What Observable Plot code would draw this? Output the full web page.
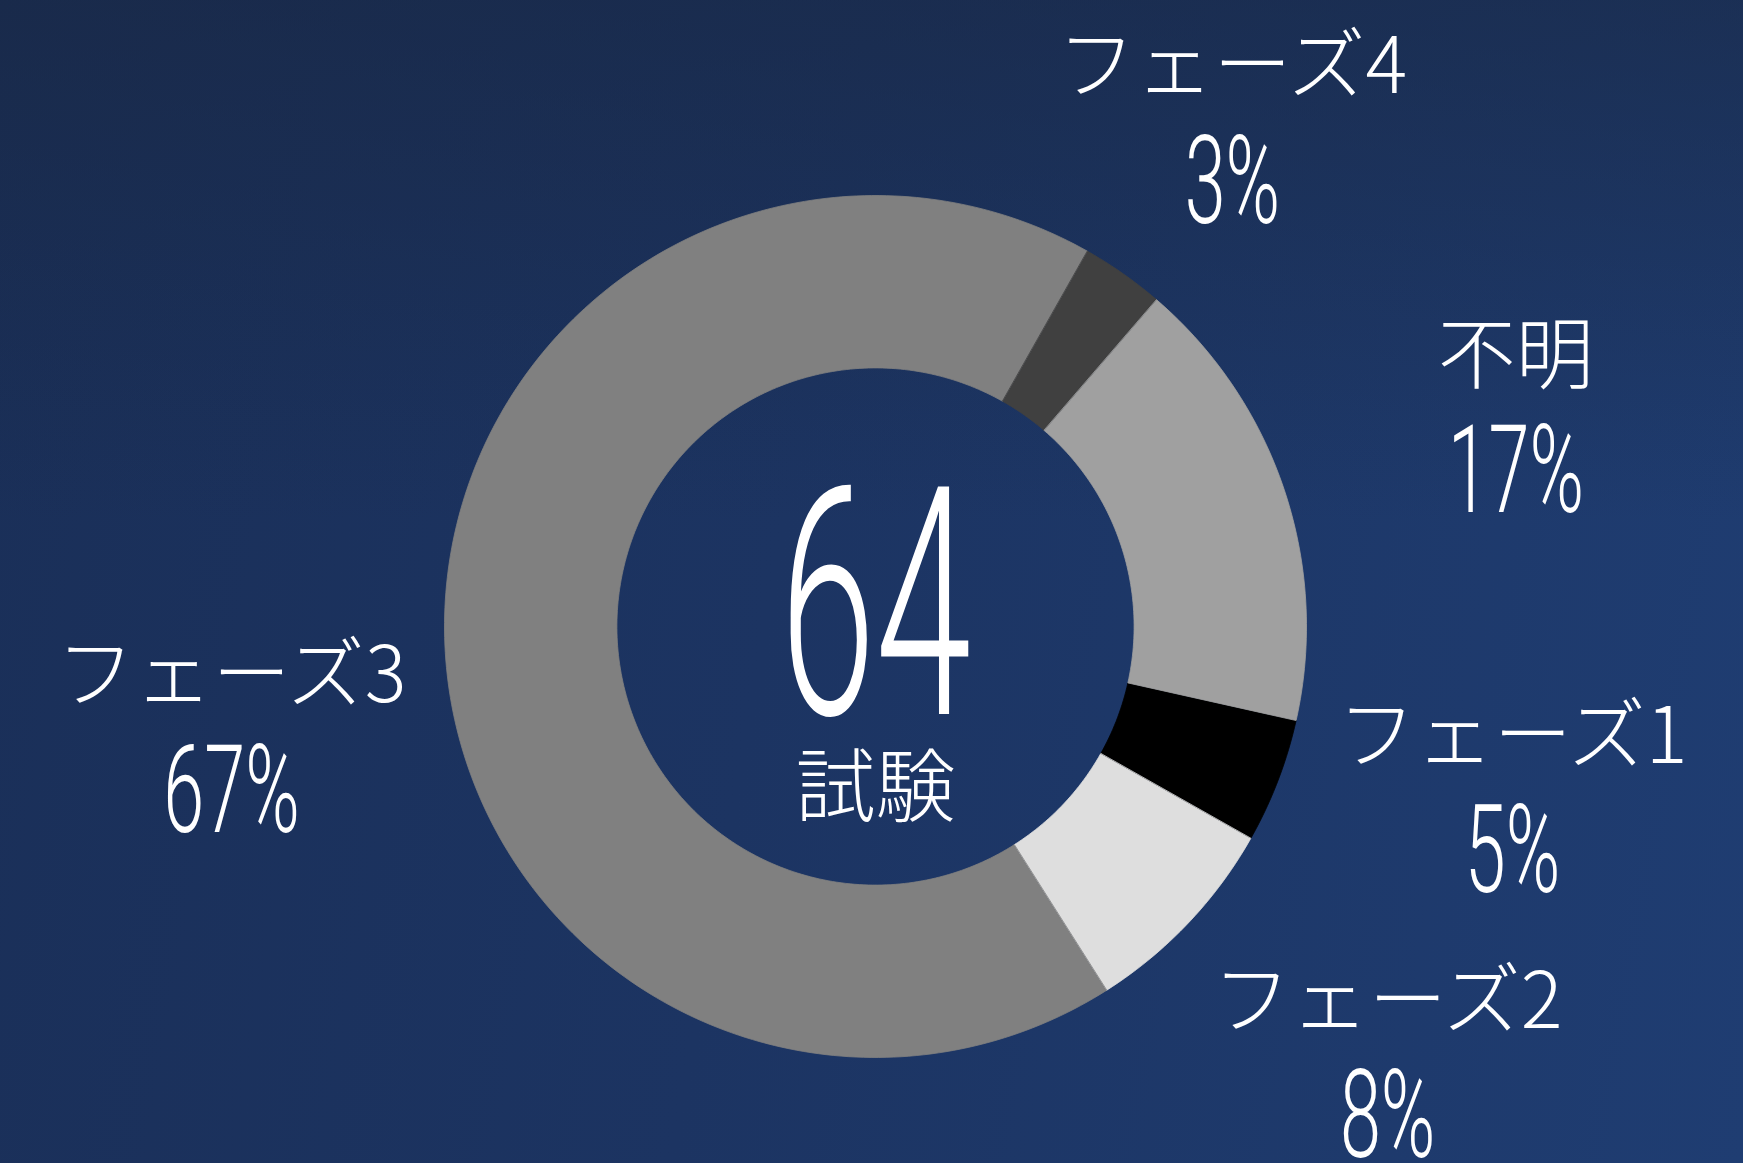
<!DOCTYPE html>
<html>
<head>
<meta charset="utf-8">
<script src="https://cdn.jsdelivr.net/npm/d3@7"></script>
<script src="https://cdn.jsdelivr.net/npm/@observablehq/plot@0.6"></script>
<style>
  html, body { margin: 0; padding: 0; overflow: hidden; }
  body {
    width: 1743px; height: 1163px;
    background:
      linear-gradient(180deg, rgba(24,38,64,0.55) 0%, rgba(24,38,64,0.0) 45%),
      linear-gradient(100deg, #1a2f58 0%, #1c3462 45%, #1f3d72 100%);
  }
  #chart svg { display: block; }
</style>
</head>
<body>
<div id="chart"></div>
<script>
// ---- data ----
const categories = ["フェーズ1", "フェーズ2", "フェーズ3", "フェーズ4", "不明"];
const counts = [3, 5, 43, 2, 11];
const colors = ["#000000", "#dedede", "#808080", "#404040", "#a0a0a0"];
const centerUnit = "試験";

// ---- layout ----
const W = 1743, H = 1163;
const CX = 875, CY = 626, R = 431;       // pixel center & outer radius
const INNER = 0.6;                        // inner radius as fraction of outer
const START_DEG = 102.6;                  // first slice start, clockwise from 12 o'clock
// label nudges: [angle offset (deg), radius factor]
const labelNudge = {
  "フェーズ1": [-6.5, 1.527],
  "フェーズ2": [-3.5, 1.552],
  "フェーズ3": [-7.8, 1.514],
  "フェーズ4": [0.2, 1.433],
  "不明": [-0.2, 1.567]
};

const total = d3.sum(counts);
const rows = categories.map((c, i) => ({cat: c, count: counts[i]}));
const pie = d3.pie().sort(null).value(d => d.count)
  .startAngle(START_DEG * Math.PI / 180)
  .endAngle(START_DEG * Math.PI / 180 + 2 * Math.PI);
const arcs = pie(rows);

// polygon outline of each ring slice, in unit coordinates (y up)
const pts = [];
for (const a of arcs) {
  const n = Math.max(8, Math.ceil((a.endAngle - a.startAngle) * 180 / Math.PI));
  for (let k = 0; k <= n; k++) {
    const t = a.startAngle + (a.endAngle - a.startAngle) * k / n;
    pts.push({cat: a.data.cat, x: Math.sin(t), y: Math.cos(t)});
  }
  for (let k = n; k >= 0; k--) {
    const t = a.startAngle + (a.endAngle - a.startAngle) * k / n;
    pts.push({cat: a.data.cat, x: INNER * Math.sin(t), y: INNER * Math.cos(t)});
  }
}

const labels = arcs.map(a => {
  const [dA, rf] = labelNudge[a.data.cat];
  const mid = (a.startAngle + a.endAngle) / 2 + dA * Math.PI / 180;
  return {
    cat: a.data.cat,
    pct: Math.round(a.data.count / total * 100) + "%",
    x: rf * Math.sin(mid),
    y: rf * Math.cos(mid)
  };
});

const JP = "'Noto Sans CJK JP', 'Noto Sans', sans-serif";
const NUM = "Roboto, 'Liberation Sans', sans-serif";

const plot = Plot.plot({
  width: W,
  height: H,
  margin: 0,
  style: {background: "transparent"},
  x: {domain: [-CX / R, (W - CX) / R], axis: null},
  y: {domain: [-(H - CY) / R, CY / R], axis: null},
  color: {domain: categories, range: colors},
  marks: [
    Plot.line(pts, {x: "x", y: "y", z: "cat", fill: "cat", stroke: "cat", strokeWidth: 0.8, curve: "linear-closed"}),
    Plot.text([String(total)], {x: () => 0, y: () => 0, text: d => d, dy: -15, fill: "white",
      fontSize: 320, fontFamily: NUM, fontWeight: 300}),
    Plot.text([centerUnit], {x: () => 0, y: () => 0, text: d => d, dy: 163, fill: "white",
      fontSize: 80, fontFamily: JP, fontWeight: 200}),
    Plot.text(labels, {x: "x", y: "y", text: "cat", dy: -54, fill: "white",
      fontSize: 78, fontFamily: JP, fontWeight: 200}),
    Plot.text(labels, {x: "x", y: "y", text: "pct", dy: 61, fill: "white",
      fontSize: 123, fontFamily: NUM, fontWeight: 300})
  ]
});

// condense the numeric glyphs horizontally
plot.querySelectorAll("text").forEach(t => {
  const s = t.textContent;
  if (/^\d+%$/.test(s)) t.setAttribute("transform", (t.getAttribute("transform") || "") + " scale(0.6,1)");
  else if (/^\d+$/.test(s)) t.setAttribute("transform", (t.getAttribute("transform") || "") + " scale(0.54,1)");
});

document.getElementById("chart").appendChild(plot);
</script>
</body>
</html>
